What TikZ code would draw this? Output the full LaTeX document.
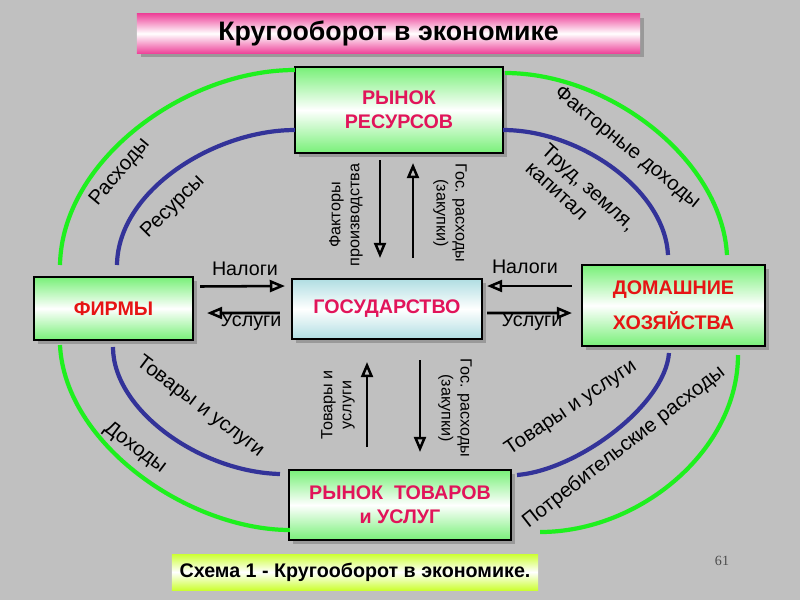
\documentclass[tikz,border=0pt]{standalone}
\usepackage{fontspec}
\setmainfont{Liberation Sans}
\newfontfamily\pagefont{Liberation Serif}
\usetikzlibrary{arrows.meta, shadows, calc, positioning}

\definecolor{bggray}{RGB}{192,192,192}
\definecolor{boxgreen}{RGB}{120,240,120}
\definecolor{govblue}{RGB}{176,222,226}
\definecolor{titlepink}{RGB}{238,70,155}
\definecolor{capgreen}{RGB}{204,255,51}
\definecolor{arcgreen}{RGB}{30,240,30}
\definecolor{arcblue}{RGB}{51,51,153}
\definecolor{crimsontext}{RGB}{225,20,90}
\definecolor{redtext}{RGB}{230,20,20}

\begin{document}
\begin{tikzpicture}[
  x=0.025cm, y=-0.025cm,
  >={Triangle[open, length=3.8mm, width=3mm]},
  box/.style={
    rectangle,
    draw=black, line width=1.8pt,
    inner sep=0pt, outer sep=0pt,
    top color=boxgreen, bottom color=boxgreen, middle color=white,
    drop shadow={shadow xshift=3pt, shadow yshift=-3pt, fill=black, opacity=0.2},
    text=crimsontext,
    align=center,
    font=\fontsize{14}{17}\selectfont\bfseries
  },
  govbox/.style={
    box,
    top color=govblue, bottom color=govblue, middle color=white,
    font=\fontsize{14}{17}\selectfont\bfseries
  },
  banner/.style={
    rectangle, inner sep=0pt, outer sep=0pt,
    top color=titlepink, bottom color=titlepink, middle color=white,
    drop shadow={shadow xshift=3pt, shadow yshift=-3pt, fill=black, opacity=0.2},
    minimum width=12.575cm, minimum height=0.975cm,
    font=\fontsize{19}{22}\selectfont\bfseries
  },
  capbox/.style={
    rectangle, inner sep=0pt, outer sep=0pt,
    top color=capgreen, bottom color=capgreen, middle color=white,
    minimum width=9.15cm, minimum height=0.9cm,
    font=\fontsize{14}{17}\selectfont\bfseries
  },
  lbl/.style={inner sep=0pt, font=\fontsize{14}{17}\selectfont},
  vlbl/.style={inner sep=0pt, align=center, font=\fontsize{11.5}{13.5}\selectfont},
  arclbl/.style={inner sep=0pt, font=\fontsize{14.5}{17}\selectfont},
  greenarc/.style={draw=arcgreen, line width=3pt},
  bluearc/.style={draw=arcblue, line width=3pt},
  arrow/.style={->, line width=1.8pt}
]
\useasboundingbox (0,0) rectangle (800,600);
\fill[bggray] (0,0) rectangle (800,600);

\node[banner] (title) at (388.5,33.5) {Кругооборот в экономике};

\node[box, minimum width=5.2cm, minimum height=2.15cm] (res) at (399,110) {РЫНОК\\РЕСУРСОВ};
\node[box, minimum width=3.975cm, minimum height=1.575cm, text=redtext] (firm) at (113.5,308.5) {ФИРМЫ};
\node[govbox, minimum width=4.75cm, minimum height=1.5cm] (gov) at (387,309) {ГОСУДАРСТВО};
\node[box, minimum width=4.575cm, minimum height=2.025cm, text=redtext] (home) at (673.5,305.5) {ДОМАШНИЕ\\[8pt]ХОЗЯЙСТВА};
\node[box, minimum width=5.55cm, minimum height=1.75cm] (goods) at (400,505) {РЫНОК\ \ ТОВАРОВ\\и УСЛУГ};

\node[capbox] (cap) at (355,572) {Схема 1 - Кругооборот в экономике.};
\node[inner sep=0pt, text=black!70, font=\pagefont\fontsize{10}{12}\selectfont] (page) at (722,561) {61};

\draw[greenarc] ($(res.north west)+(0,3)$) .. controls (185,70) and (62,160) .. ($(firm.north west)+(26,-12)$);
\draw[bluearc] ($(res.south west)+(0,-23)$) .. controls (215,130) and (118,190) .. ($(firm.north west)+(83,-12)$);
\draw[greenarc] ($(res.north east)+(2,6)$) .. controls (610,73) and (722,160) .. ($(home.north west)+(145,-10)$);
\draw[bluearc] ($(res.south east)+(0,-23)$) .. controls (580,130) and (665,190) .. ($(home.north west)+(86,-10)$);
\draw[greenarc] ($(firm.south west)+(26,5)$) .. controls (65,445) and (190,530) .. ($(goods.west)+(1,25)$);
\draw[bluearc] ($(firm.south west)+(79,7)$) .. controls (113,410) and (200,472) .. ($(goods.north west)+(-9,4)$);
\draw[bluearc] ($(home.south west)+(87,7)$) .. controls (665,405) and (578,470) .. ($(goods.north east)+(6,5)$);
\draw[greenarc] ($(home.south west)+(156,9)$) .. controls (738,450) and (640,532) .. ($(goods.south east)+(29,-8)$);

\node[arclbl, rotate=50] (spend) at (120,172) {Расходы};
\node[arclbl, rotate=45] (inputs) at (173,207) {Ресурсы};
\node[arclbl, rotate=-39] (factinc) at (627,148) {Факторные доходы};
\node[arclbl, rotate=-42, align=left] (labour) at (581,196) {Труд, земля,\\капитал};
\node[arclbl, rotate=-37] (gsleft) at (200,407) {Товары и услуги};
\node[arclbl, rotate=-37] (income) at (135,448) {Доходы};
\node[arclbl, rotate=34] (gsright) at (571,408) {Товары и услуги};
\node[arclbl, rotate=38] (consume) at (624,447) {Потребительские расходы};

\draw[arrow] ($(firm.east)+(7,-22)$) -- ($(gov.west)+(-7,-23)$);
\draw[arrow] ($(gov.west)+(-12,4)$) -- ($(firm.east)+(14,4.5)$);
\draw[arrow] ($(home.west)+(-10,-19.5)$) -- ($(gov.east)+(5,-23)$);
\draw[arrow] ($(gov.east)+(5,4)$) -- ($(home.west)+(-10,7.5)$);
\draw[arrow] ($(res.south)+(-19,7)$) -- ($(gov.north)+(-7,-21)$);
\draw[arrow] ($(gov.north)+(26,-21)$) -- ($(res.south)+(14,10)$);
\draw[arrow] ($(goods.north)+(-33,-23)$) -- ($(gov.south)+(-20,23)$);
\draw[arrow] ($(gov.south)+(33,21)$) -- ($(goods.north)+(20,-18)$);

\node[lbl] (taxleft) at (245,269) {Налоги};
\node[lbl] (servleft) at (251,322) {Услуги};
\node[lbl] (taxright) at (525,267) {Налоги};
\node[lbl] (servright) at (532,322) {Услуги};

\node[vlbl, rotate=90] (factors) at (346,215) {Факторы\\производства};
\node[vlbl, rotate=-90] (govtop) at (450,213) {Гос. расходы\\(закупки)};
\node[vlbl, rotate=90] (goodsup) at (338,405) {Товары и\\услуги};
\node[vlbl, rotate=-90] (govbottom) at (455,408) {Гос. расходы\\(закупки)};

\end{tikzpicture}
\end{document}
